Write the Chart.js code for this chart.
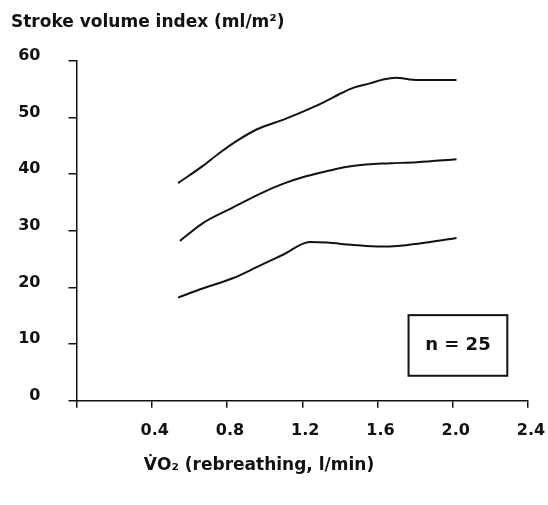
<!DOCTYPE html>
<html>
<head>
<meta charset="utf-8">
<script src="https://cdn.jsdelivr.net/npm/chart.js@4"></script>
<style>
  html, body { margin: 0; padding: 0; background: #fff; }
  canvas { display: block; }
</style>
</head>
<body>
<canvas id="svChart" width="548" height="505"></canvas>
<script>
// stroke volume index vs VO2, three curves
const upperX = [0.54, 0.67, 0.76, 0.85, 0.96, 1.10, 1.21, 1.31, 1.41, 1.47, 1.56, 1.63, 1.70, 1.77, 1.85, 2.02];
const upperY = [38.4, 41.4, 43.7, 45.8, 47.9, 49.6, 51.1, 52.6, 54.3, 55.2, 56.0, 56.7, 57.0, 56.7, 56.6, 56.6];
const middleX = [0.55, 0.67, 0.82, 0.98, 1.10, 1.22, 1.33, 1.44, 1.54, 1.67, 1.81, 2.02];
const middleY = [28.2, 31.3, 33.9, 36.6, 38.3, 39.6, 40.5, 41.3, 41.7, 41.9, 42.1, 42.6];
const lowerX = [0.54, 0.67, 0.83, 0.96, 1.10, 1.24, 1.33, 1.46, 1.54, 1.65, 1.74, 1.86, 2.02];
const lowerY = [18.2, 19.8, 21.6, 23.6, 25.8, 28.0, 27.9, 27.5, 27.3, 27.2, 27.4, 27.9, 28.7];

const xTicks = [0.4, 0.8, 1.2, 1.6, 2.0, 2.4];
const yTicks = [0, 10, 20, 30, 40, 50, 60];
const xTitle = 'V\u0307O\u2082 (rebreathing, l/min)';
const nLabel = 'n = 25';

const tickFont = { family: 'DejaVu Sans', weight: 'bold', size: 16 };

function toPoints(xs, ys) {
  return xs.map((x, i) => ({ x: x, y: ys[i] }));
}

function curve(xs, ys) {
  return {
    data: toPoints(xs, ys),
    borderColor: '#111',
    borderWidth: 2,
    pointRadius: 0,
    fill: false,
    cubicInterpolationMode: 'monotone'
  };
}

// "n = 25" box and the x axis caption (sits left of the plot centre in the original)
const extras = {
  id: 'extras',
  afterDraw(chart) {
    const ctx = chart.ctx;
    const x = chart.scales.x, y = chart.scales.y;
    const left = x.getPixelForValue(1.765), right = x.getPixelForValue(2.29);
    const top = y.getPixelForValue(15.1), bottom = y.getPixelForValue(4.4);
    ctx.save();
    ctx.strokeStyle = '#111';
    ctx.lineWidth = 2;
    ctx.strokeRect(left, top, right - left, bottom - top);
    ctx.fillStyle = '#111';
    ctx.font = 'bold 18px "DejaVu Sans"';
    ctx.textAlign = 'center';
    ctx.textBaseline = 'middle';
    ctx.fillText(nLabel, (left + right) / 2, (top + bottom) / 2);
    ctx.font = 'bold 17px "DejaVu Sans"';
    ctx.fillText(xTitle, 259, 466);
    ctx.restore();
  }
};

const ctx = document.getElementById('svChart').getContext('2d');
new Chart(ctx, {
  type: 'line',
  data: {
    datasets: [
      curve(upperX, upperY),
      curve(middleX, middleY),
      curve(lowerX, lowerY)
    ]
  },
  options: {
    responsive: false,
    devicePixelRatio: 1,
    animation: false,
    layout: { padding: { left: 11, right: 20, top: 0, bottom: 0 } },
    plugins: {
      legend: { display: false },
      tooltip: { enabled: false },
      title: {
        display: true,
        text: 'Stroke volume index (ml/m²)',
        align: 'start',
        color: '#111',
        font: { family: 'DejaVu Sans', weight: 'bold', size: 17, lineHeight: 1.2 },
        padding: { top: 12, bottom: 28.3 }
      }
    },
    scales: {
      x: {
        type: 'linear',
        min: 0,
        max: 2.4,
        afterFit(scale) {
          scale.height = 104.3;
          scale.paddingLeft = 0;
          scale.paddingRight = 0;
        },
        afterBuildTicks(scale) {
          scale.ticks = [0].concat(xTicks).map(v => ({ value: v }));
        },
        border: { display: true, color: '#111', width: 1.5 },
        grid: { drawOnChartArea: false, drawTicks: true, tickLength: 7, color: '#111', lineWidth: 1.5 },
        ticks: {
          color: '#111',
          font: tickFont,
          padding: 14,
          labelOffset: 3,
          maxRotation: 0,
          autoSkip: false,
          callback: v => v === 0 ? '' : v.toFixed(1)
        }
      },
      y: {
        min: 0,
        max: 60,
        afterFit(scale) { scale.width = 65.5; },
        afterBuildTicks(scale) {
          scale.ticks = yTicks.map(v => ({ value: v }));
        },
        border: { display: true, color: '#111', width: 1.5 },
        grid: { drawOnChartArea: false, drawTicks: true, tickLength: 8, color: '#111', lineWidth: 1.5 },
        ticks: {
          color: '#111',
          font: tickFont,
          padding: 28,
          labelOffset: -5,
          autoSkip: false,
          callback: v => String(v)
        }
      }
    }
  },
  plugins: [extras]
});
</script>
</body>
</html>
